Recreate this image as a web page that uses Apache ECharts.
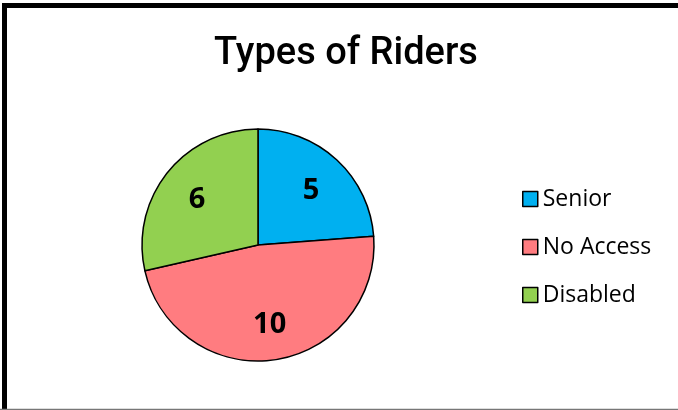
<!DOCTYPE html>
<html lang="en">
<head>
    <meta charset="UTF-8">
    <title>Types of Riders</title>
    <script src="https://cdn.jsdelivr.net/npm/echarts@6/dist/echarts.min.js"></script>
    <style>
        html, body { margin: 0; padding: 0; background: #fff; }
    </style>
</head>
<body>
<div id="main" style="width: 678px;height:410px;"></div>
<script type="text/javascript">
    var riderTypes = ['Senior', 'No Access', 'Disabled'];
    var riderCounts = [5, 10, 6];
    var sliceColors = ['#00B0F0', '#FF7C80', '#92D050'];

    var chart = echarts.init(document.getElementById('main'));

    var pieData = riderTypes.map(function (name, i) {
        return { name: name, value: riderCounts[i], itemStyle: { color: sliceColors[i] } };
    });

    var option = {
        animation: false,
        color: sliceColors,
        title: {
            text: 'Types of Riders',
            left: 341,
            top: 30,
            textAlign: 'center',
            textStyle: {
                fontFamily: 'Roboto, sans-serif',
                fontSize: 38,
                fontWeight: 500,
                color: '#000'
            }
        },
        legend: {
            orient: 'vertical',
            left: 517,
            top: 182,
            itemWidth: 15,
            itemHeight: 15,
            itemGap: 24,
            icon: 'rect',
            data: riderTypes,
            itemStyle: { borderColor: '#000', borderWidth: 1.5 },
            textStyle: {
                fontFamily: '"Open Sans", sans-serif',
                fontSize: 23,
                lineHeight: 24,
                color: '#000'
            }
        },
        graphic: [{
            type: 'rect',
            shape: { x: 4.5, y: 5.5, width: 720, height: 440 },
            style: { fill: 'none', stroke: '#000', lineWidth: 5 },
            silent: true
        }, {
            type: 'line',
            shape: { x1: 0, y1: 409.5, x2: 678, y2: 409.5 },
            style: { stroke: '#777', lineWidth: 1.5 },
            silent: true
        }],
        series: [{
            type: 'pie',
            center: [258, 245],
            radius: 116,
            startAngle: 90,
            clockwise: true,
            silent: true,
            itemStyle: { borderColor: '#000', borderWidth: 1.5 },
            label: { show: false },
            labelLine: { show: false },
            emphasis: { disabled: true },
            data: pieData
        }, {
            // label carrier: transparent, labels sit around 0.65 of the radius
            type: 'pie',
            center: [258, 245],
            radius: [0, 150],
            startAngle: 90,
            clockwise: true,
            silent: true,
            z: 5,
            itemStyle: { color: 'transparent', borderWidth: 0 },
            label: {
                show: true,
                position: 'inside',
                formatter: '{c}',
                fontFamily: '"Open Sans", sans-serif',
                fontWeight: 'bold',
                fontSize: 29,
                color: '#000',
                offset: [0, 3]
            },
            labelLine: { show: false },
            emphasis: { disabled: true },
            data: riderTypes.map(function (name, i) {
                return { name: name, value: riderCounts[i] };
            })
        }]
    };

    chart.setOption(option);
</script>
</body>
</html>
